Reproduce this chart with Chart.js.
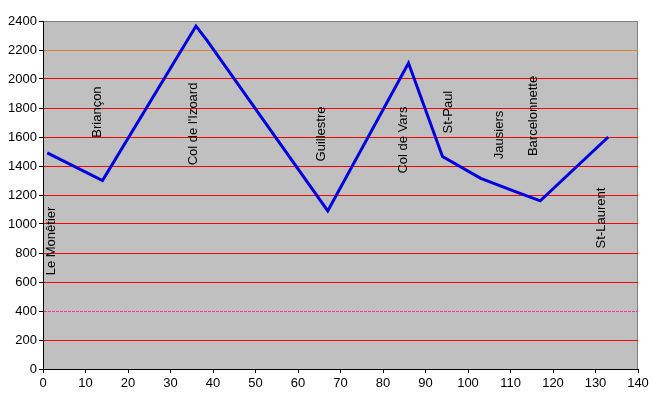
<!DOCTYPE html>
<html>
<head>
<meta charset="utf-8">
<script src="https://cdn.jsdelivr.net/npm/chart.js@4.4.0/dist/chart.umd.min.js"></script>
<style>
	html, body { margin: 0; padding: 0; background: #fff; }
	#wrap { width: 654px; height: 407px; }
</style>
</head>
<body>
<div id="wrap"><canvas id="chart" width="654" height="407"></canvas></div>
<script>
// distance (km) and altitude (m)
const distKm = [1, 14, 36, 38.5, 67, 86, 94, 103, 111, 117, 133];
const altitude = [1490, 1300, 2365, 2270, 1090, 2110, 1465, 1315, 1225, 1160, 1600];

// place names, with the km / altitude where each label sits (label centre)
const places = ["Le Monêtier", "Briançon", "Col de l'Izoard", "Guillestre", "Col de Vars",
	"St-Paul", "Jausiers", "Barcelonnette", "St-Laurent"];
const placeKm = [1.9, 12.7, 35.3, 65.6, 84.7, 95.5, 107.3, 115.5, 131.5];
const placeAlt = [883, 1772, 1690, 1621, 1579, 1772, 1614, 1745, 1041];

const FONT = "'Liberation Sans', Arial, sans-serif";

// grey plot area + border
const plotBg = {
	id: 'plotBg',
	beforeDraw(chart) {
		const a = chart.chartArea, ctx = chart.ctx;
		ctx.save();
		ctx.fillStyle = '#c0c0c0';
		ctx.fillRect(a.left, a.top, a.right - a.left, a.bottom - a.top);
		ctx.strokeStyle = '#808080';
		ctx.lineWidth = 1;
		ctx.strokeRect(a.left + 0.5, a.top + 0.5, a.right - a.left - 1, a.bottom - a.top);
		ctx.restore();
	}
};

// vertical place names
const placeLabels = {
	id: 'placeLabels',
	afterDatasetsDraw(chart) {
		const ctx = chart.ctx, xs = chart.scales.x, ys = chart.scales.y;
		ctx.save();
		ctx.fillStyle = '#000';
		ctx.font = '13px ' + FONT;
		ctx.textAlign = 'center';
		ctx.textBaseline = 'middle';
		for (let i = 0; i < places.length; i++) {
			ctx.save();
			ctx.translate(xs.getPixelForValue(placeKm[i]), ys.getPixelForValue(placeAlt[i]));
			ctx.rotate(-Math.PI / 2);
			ctx.fillText(places[i], 0, 0);
			ctx.restore();
		}
		ctx.restore();
	}
};

function gridColor(c) {
	if (!c.tick) return 'rgba(0,0,0,0)';
	const v = c.tick.value;
	if (v === 0 || v === 2400) return 'rgba(0,0,0,0)';
	if (v === 2200) return '#d9822b';
	if (v === 400) return '#ff30b0';
	return '#ff0000';
}

function drawChart() {
	const points = distKm.map((d, i) => ({ x: d, y: altitude[i] }));
	new Chart(document.getElementById('chart'), {
		type: 'scatter',
		data: {
			datasets: [{
				data: points,
				showLine: true,
				borderColor: '#0000dd',
				borderWidth: 3,
				pointRadius: 0,
				tension: 0
			}]
		},
		options: {
			responsive: false,
			animation: false,
			layout: { padding: { top: 21, right: 16, left: 0, bottom: 0 } },
			plugins: { legend: { display: false }, tooltip: { enabled: false } },
			scales: {
				x: {
					type: 'linear',
					min: 0, max: 140,
					afterFit(s) { s.height = 38; },
					ticks: { stepSize: 10, color: '#000', padding: 3, font: { family: FONT, size: 13 },
						callback: v => String(v) },
					grid: { drawOnChartArea: false, drawTicks: true, tickLength: 4, tickColor: '#000' },
					border: { color: '#000', width: 1 }
				},
				y: {
					min: 0, max: 2400,
					afterFit(s) { s.width = 43; },
					ticks: { stepSize: 200, color: '#000', padding: 2, font: { family: FONT, size: 13 },
						callback: v => String(v) },
					grid: { color: gridColor, tickColor: '#000', tickLength: 4, lineWidth: 1 },
					border: {
						color: '#000', width: 1,
						dash: c => (c.tick && c.tick.value === 400) ? [3, 1] : []
					}
				}
			}
		},
		plugins: [plotBg, placeLabels]
	});
}

drawChart();
</script>
</body>
</html>
